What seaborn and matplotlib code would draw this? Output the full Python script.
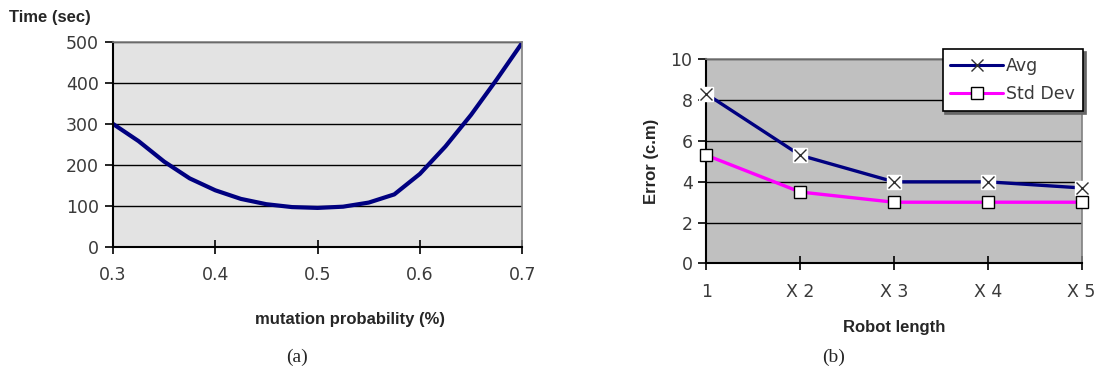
import matplotlib
matplotlib.use("Agg")
import matplotlib.pyplot as plt
import seaborn as sns
import pandas as pd
from matplotlib.lines import Line2D

# (a) mutation probability vs time
mutation_prob = [0.3, 0.325, 0.35, 0.375, 0.4, 0.425, 0.45, 0.475, 0.5,
                 0.525, 0.55, 0.575, 0.6, 0.625, 0.65, 0.675, 0.7]
time_sec = [300, 258, 208, 167, 138, 117, 104, 97, 95,
            98, 108, 128, 178, 245, 322, 408, 498]

# (b) robot length vs error
robot_length = ["1", "X 2", "X 3", "X 4", "X 5"]
err_avg = [8.3, 5.3, 4.0, 4.0, 3.7]
err_std = [5.3, 3.5, 3.0, 3.0, 3.0]

sns.set_style("white")
plt.rcParams["font.family"] = ["Liberation Sans", "DejaVu Sans"]

fig = plt.figure(figsize=(10.97, 3.78), dpi=100)
ax1 = fig.add_axes([0.103, 0.347, 0.373, 0.542])
ax2 = fig.add_axes([0.644, 0.303, 0.342, 0.540])

tick_col = "#3a3a3a"
navy = "#000080"
magenta = "#ff00ff"

# ---- panel (a)
ax1.set_facecolor("#e3e3e3")
df_a = pd.DataFrame({"p": mutation_prob, "t": time_sec})
sns.lineplot(data=df_a, x="p", y="t", ax=ax1, color=navy, linewidth=3)
ax1.set_xlim(0.3, 0.7)
ax1.set_ylim(0, 500)
ax1.set_xticks([0.3, 0.4, 0.5, 0.6, 0.7])
ax1.set_yticks(range(0, 501, 100))
for y in range(100, 501, 100):
    ax1.axhline(y, color="black", linewidth=1, zorder=0.5)
ax1.set_xlabel("")
ax1.set_ylabel("")
fig.text(0.008, 0.955, "Time (sec)", fontsize=12, fontweight="bold", va="center")
fig.text(0.319, 0.155, "mutation probability (%)", fontsize=12,
         fontweight="bold", ha="center", va="center")

# ---- panel (b)
ax2.set_facecolor("#c0c0c0")
x_idx = list(range(len(robot_length)))
df_b = pd.DataFrame({"x": x_idx * 2,
                     "err": err_avg + err_std,
                     "series": ["Avg"] * 5 + ["Std Dev"] * 5})
sns.lineplot(data=df_b, x="x", y="err", hue="series", ax=ax2,
             palette={"Avg": navy, "Std Dev": magenta},
             linewidth=2.4, legend=False)
ax2.plot(x_idx, err_avg, linestyle="none", marker="s", markersize=10,
         markerfacecolor="white", markeredgecolor="white", zorder=3,
         clip_on=False)
ax2.plot(x_idx, err_avg, linestyle="none", marker="x", markersize=8,
         color="#303030", markeredgewidth=1, zorder=4, clip_on=False)
ax2.plot(x_idx, err_std, linestyle="none", marker="s", markersize=8,
         markerfacecolor="white", markeredgecolor="black", zorder=4,
         clip_on=False)
ax2.set_xlim(0, 4)
ax2.set_ylim(0, 10)
ax2.set_xticks(x_idx)
ax2.set_xticklabels(robot_length)
ax2.set_yticks(range(0, 11, 2))
for y in range(2, 11, 2):
    ax2.axhline(y, color="black", linewidth=1, zorder=0.5)
ax2.set_xlabel("Robot length", fontsize=12, fontweight="bold", labelpad=14)
ax2.set_ylabel("Error (c.m)", fontsize=12, fontweight="bold", labelpad=8)

h_avg = Line2D([], [], color=navy, linewidth=2.2, marker="x",
               markersize=8, markeredgecolor="#303030", markeredgewidth=1)
h_std = Line2D([], [], color=magenta, linewidth=2.2, marker="s",
               markersize=9, markerfacecolor="white", markeredgecolor="black")
leg = fig.legend([h_avg, h_std], ["Avg", "Std Dev"],
                 loc="upper right", bbox_to_anchor=(0.987, 0.87),
                 prop={"family": "DejaVu Sans", "size": 12.5},
                 frameon=True, fancybox=False, shadow={"color": "#666666", "alpha": 1},
                 handlelength=3.0, borderpad=0.45, labelspacing=0.6,
                 handletextpad=0.2, borderaxespad=0)
leg.get_frame().set_edgecolor("black")
leg.get_frame().set_linewidth(1.2)
leg.get_frame().set_facecolor("white")
leg.get_frame().set_alpha(1)
for t in leg.get_texts():
    t.set_color(tick_col)

for ax in (ax1, ax2):
    ax.tick_params(axis="both", bottom=True, left=True, colors="black",
                   labelcolor=tick_col, labelsize=12.5)
    for lab in ax.get_xticklabels() + ax.get_yticklabels():
        lab.set_family("DejaVu Sans")
    ax.tick_params(axis="x", direction="inout", length=10, width=1.2, pad=9)
    ax.tick_params(axis="y", direction="out", length=6, width=1.2, pad=4)
    ax.spines["left"].set_color("black")
    ax.spines["bottom"].set_color("black")
    ax.spines["left"].set_linewidth(1.5)
    ax.spines["bottom"].set_linewidth(1.5)
    for s in ("top", "right"):
        ax.spines[s].set_color("#808080")
        ax.spines[s].set_linewidth(1.2)

fig.text(0.271, 0.055, "(a)", fontsize=14, family="Liberation Serif",
         ha="center", va="center")
fig.text(0.760, 0.055, "(b)", fontsize=14, family="Liberation Serif",
         ha="center", va="center")

fig.savefig("out.png", dpi=100)
